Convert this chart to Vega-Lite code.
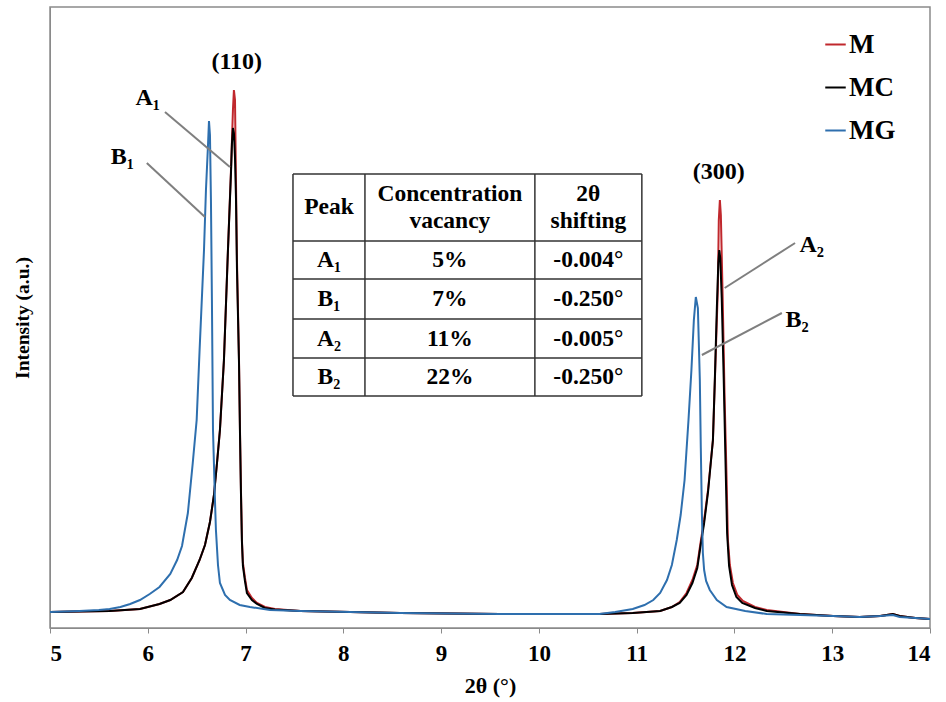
{
  "$schema": "https://vega.github.io/schema/vega-lite/v6.json",
  "width": 880,
  "height": 621,
  "autosize": {"type": "none"},
  "padding": {"left": 50, "top": 7, "right": 16, "bottom": 74},
  "background": "white",
  "config": {
    "view": {"stroke": "#8a8a8a", "strokeWidth": 1.5},
    "font": "Liberation Serif"
  },
  "datasets": {
    "curves": [
      {"series":"M","theta":5.00,"intensity":16},{"series":"M","theta":5.30,"intensity":16.5},{"series":"M","theta":5.61,"intensity":17},{"series":"M","theta":5.92,"intensity":19},{"series":"M","theta":6.12,"intensity":24},{"series":"M","theta":6.23,"intensity":28},{"series":"M","theta":6.36,"intensity":36},{"series":"M","theta":6.45,"intensity":50},{"series":"M","theta":6.53,"intensity":68},{"series":"M","theta":6.585,"intensity":83},{"series":"M","theta":6.636,"intensity":106},{"series":"M","theta":6.677,"intensity":133},{"series":"M","theta":6.708,"intensity":165},{"series":"M","theta":6.738,"intensity":198},{"series":"M","theta":6.779,"intensity":268},{"series":"M","theta":6.82,"intensity":378},{"series":"M","theta":6.851,"intensity":458},{"series":"M","theta":6.871,"intensity":518},{"series":"M","theta":6.881,"intensity":538},{"series":"M","theta":6.892,"intensity":528},{"series":"M","theta":6.902,"intensity":448},{"series":"M","theta":6.912,"intensity":368},{"series":"M","theta":6.933,"intensity":268},{"series":"M","theta":6.943,"intensity":198},{"series":"M","theta":6.953,"intensity":138},{"series":"M","theta":6.963,"intensity":88},{"series":"M","theta":6.973,"intensity":65},{"series":"M","theta":6.994,"intensity":50},{"series":"M","theta":7.014,"intensity":38},{"series":"M","theta":7.065,"intensity":30},{"series":"M","theta":7.117,"intensity":25},{"series":"M","theta":7.198,"intensity":21},{"series":"M","theta":7.30,"intensity":19},{"series":"M","theta":7.56,"intensity":17},{"series":"M","theta":8.07,"intensity":16},{"series":"M","theta":8.58,"intensity":15},{"series":"M","theta":9.09,"intensity":14.5},{"series":"M","theta":9.60,"intensity":14},{"series":"M","theta":10.11,"intensity":14},{"series":"M","theta":10.62,"intensity":14},{"series":"M","theta":10.96,"intensity":15},{"series":"M","theta":11.24,"intensity":17},{"series":"M","theta":11.36,"intensity":21},{"series":"M","theta":11.44,"intensity":26},{"series":"M","theta":11.51,"intensity":35},{"series":"M","theta":11.57,"intensity":48},{"series":"M","theta":11.62,"intensity":63},{"series":"M","theta":11.65,"intensity":83},{"series":"M","theta":11.69,"intensity":108},{"series":"M","theta":11.73,"intensity":138},{"series":"M","theta":11.78,"intensity":188},{"series":"M","theta":11.81,"intensity":278},{"series":"M","theta":11.83,"intensity":338},{"series":"M","theta":11.84,"intensity":408},{"series":"M","theta":11.851,"intensity":428},{"series":"M","theta":11.861,"intensity":413},{"series":"M","theta":11.88,"intensity":328},{"series":"M","theta":11.90,"intensity":228},{"series":"M","theta":11.92,"intensity":148},{"series":"M","theta":11.933,"intensity":88},{"series":"M","theta":11.953,"intensity":63},{"series":"M","theta":11.984,"intensity":45},{"series":"M","theta":12.03,"intensity":33},{"series":"M","theta":12.086,"intensity":27},{"series":"M","theta":12.21,"intensity":21},{"series":"M","theta":12.33,"intensity":18},{"series":"M","theta":12.67,"intensity":14},{"series":"M","theta":13.01,"intensity":12},{"series":"M","theta":13.28,"intensity":11},{"series":"M","theta":13.49,"intensity":12},{"series":"M","theta":13.62,"intensity":14},{"series":"M","theta":13.69,"intensity":12},{"series":"M","theta":13.85,"intensity":10},{"series":"M","theta":14.0,"intensity":9},
      {"series":"MC","theta":5.00,"intensity":16},{"series":"MC","theta":5.30,"intensity":16.5},{"series":"MC","theta":5.61,"intensity":17},{"series":"MC","theta":5.92,"intensity":19},{"series":"MC","theta":6.12,"intensity":24},{"series":"MC","theta":6.23,"intensity":28},{"series":"MC","theta":6.36,"intensity":36},{"series":"MC","theta":6.45,"intensity":50},{"series":"MC","theta":6.53,"intensity":68},{"series":"MC","theta":6.585,"intensity":83},{"series":"MC","theta":6.636,"intensity":106},{"series":"MC","theta":6.677,"intensity":133},{"series":"MC","theta":6.708,"intensity":165},{"series":"MC","theta":6.738,"intensity":198},{"series":"MC","theta":6.779,"intensity":268},{"series":"MC","theta":6.82,"intensity":378},{"series":"MC","theta":6.851,"intensity":455},{"series":"MC","theta":6.861,"intensity":485},{"series":"MC","theta":6.871,"intensity":500},{"series":"MC","theta":6.881,"intensity":495},{"series":"MC","theta":6.892,"intensity":470},{"series":"MC","theta":6.902,"intensity":430},{"series":"MC","theta":6.912,"intensity":360},{"series":"MC","theta":6.933,"intensity":265},{"series":"MC","theta":6.943,"intensity":195},{"series":"MC","theta":6.953,"intensity":135},{"series":"MC","theta":6.963,"intensity":86},{"series":"MC","theta":6.973,"intensity":62},{"series":"MC","theta":6.994,"intensity":47},{"series":"MC","theta":7.014,"intensity":35},{"series":"MC","theta":7.065,"intensity":28},{"series":"MC","theta":7.117,"intensity":24},{"series":"MC","theta":7.198,"intensity":20},{"series":"MC","theta":7.30,"intensity":18.5},{"series":"MC","theta":7.56,"intensity":17},{"series":"MC","theta":8.07,"intensity":16},{"series":"MC","theta":8.58,"intensity":15},{"series":"MC","theta":9.09,"intensity":14.5},{"series":"MC","theta":9.60,"intensity":14},{"series":"MC","theta":10.11,"intensity":14},{"series":"MC","theta":10.62,"intensity":14},{"series":"MC","theta":10.96,"intensity":15},{"series":"MC","theta":11.24,"intensity":17},{"series":"MC","theta":11.36,"intensity":21},{"series":"MC","theta":11.44,"intensity":25},{"series":"MC","theta":11.51,"intensity":33},{"series":"MC","theta":11.57,"intensity":45},{"series":"MC","theta":11.62,"intensity":60},{"series":"MC","theta":11.65,"intensity":80},{"series":"MC","theta":11.69,"intensity":105},{"series":"MC","theta":11.73,"intensity":136},{"series":"MC","theta":11.78,"intensity":188},{"series":"MC","theta":11.80,"intensity":250},{"series":"MC","theta":11.82,"intensity":320},{"series":"MC","theta":11.835,"intensity":365},{"series":"MC","theta":11.845,"intensity":378},{"series":"MC","theta":11.855,"intensity":370},{"series":"MC","theta":11.87,"intensity":330},{"series":"MC","theta":11.89,"intensity":250},{"series":"MC","theta":11.91,"intensity":160},{"series":"MC","theta":11.925,"intensity":95},{"series":"MC","theta":11.945,"intensity":62},{"series":"MC","theta":11.975,"intensity":43},{"series":"MC","theta":12.02,"intensity":31},{"series":"MC","theta":12.08,"intensity":25},{"series":"MC","theta":12.21,"intensity":20},{"series":"MC","theta":12.33,"intensity":17},{"series":"MC","theta":12.67,"intensity":14},{"series":"MC","theta":13.01,"intensity":12},{"series":"MC","theta":13.28,"intensity":11},{"series":"MC","theta":13.49,"intensity":12},{"series":"MC","theta":13.62,"intensity":14},{"series":"MC","theta":13.69,"intensity":12},{"series":"MC","theta":13.85,"intensity":10},{"series":"MC","theta":14.0,"intensity":9},
      {"series":"MG","theta":5.00,"intensity":16},{"series":"MG","theta":5.30,"intensity":17},{"series":"MG","theta":5.50,"intensity":18},{"series":"MG","theta":5.61,"intensity":19},{"series":"MG","theta":5.72,"intensity":21},{"series":"MG","theta":5.82,"intensity":24},{"series":"MG","theta":5.92,"intensity":28},{"series":"MG","theta":6.02,"intensity":34},{"series":"MG","theta":6.12,"intensity":41},{"series":"MG","theta":6.23,"intensity":54},{"series":"MG","theta":6.30,"intensity":68},{"series":"MG","theta":6.35,"intensity":82},{"series":"MG","theta":6.41,"intensity":115},{"series":"MG","theta":6.46,"intensity":165},{"series":"MG","theta":6.50,"intensity":208},{"series":"MG","theta":6.53,"intensity":278},{"series":"MG","theta":6.575,"intensity":378},{"series":"MG","theta":6.595,"intensity":438},{"series":"MG","theta":6.616,"intensity":483},{"series":"MG","theta":6.626,"intensity":507},{"series":"MG","theta":6.636,"intensity":493},{"series":"MG","theta":6.646,"intensity":428},{"series":"MG","theta":6.656,"intensity":328},{"series":"MG","theta":6.667,"intensity":198},{"series":"MG","theta":6.687,"intensity":128},{"series":"MG","theta":6.697,"intensity":98},{"series":"MG","theta":6.718,"intensity":63},{"series":"MG","theta":6.738,"intensity":45},{"series":"MG","theta":6.79,"intensity":33},{"series":"MG","theta":6.84,"intensity":28},{"series":"MG","theta":6.94,"intensity":23},{"series":"MG","theta":7.045,"intensity":21},{"series":"MG","theta":7.25,"intensity":18},{"series":"MG","theta":7.56,"intensity":17},{"series":"MG","theta":8.07,"intensity":16},{"series":"MG","theta":8.58,"intensity":15},{"series":"MG","theta":9.09,"intensity":14.5},{"series":"MG","theta":9.60,"intensity":14},{"series":"MG","theta":10.11,"intensity":14},{"series":"MG","theta":10.62,"intensity":14},{"series":"MG","theta":10.78,"intensity":16},{"series":"MG","theta":10.96,"intensity":19},{"series":"MG","theta":11.08,"intensity":23},{"series":"MG","theta":11.17,"intensity":28},{"series":"MG","theta":11.24,"intensity":35},{"series":"MG","theta":11.31,"intensity":48},{"series":"MG","theta":11.36,"intensity":63},{"series":"MG","theta":11.41,"intensity":88},{"series":"MG","theta":11.45,"intensity":113},{"series":"MG","theta":11.49,"intensity":148},{"series":"MG","theta":11.53,"intensity":208},{"series":"MG","theta":11.56,"intensity":258},{"series":"MG","theta":11.585,"intensity":308},{"series":"MG","theta":11.605,"intensity":331},{"series":"MG","theta":11.626,"intensity":320},{"series":"MG","theta":11.646,"intensity":248},{"series":"MG","theta":11.656,"intensity":180},{"series":"MG","theta":11.667,"intensity":115},{"series":"MG","theta":11.677,"intensity":75},{"series":"MG","theta":11.69,"intensity":58},{"series":"MG","theta":11.71,"intensity":47},{"series":"MG","theta":11.748,"intensity":38},{"series":"MG","theta":11.82,"intensity":28},{"series":"MG","theta":11.92,"intensity":21},{"series":"MG","theta":12.11,"intensity":17},{"series":"MG","theta":12.33,"intensity":14},{"series":"MG","theta":12.67,"intensity":13},{"series":"MG","theta":13.01,"intensity":12},{"series":"MG","theta":13.28,"intensity":11},{"series":"MG","theta":13.49,"intensity":12},{"series":"MG","theta":13.62,"intensity":13},{"series":"MG","theta":13.69,"intensity":11},{"series":"MG","theta":13.85,"intensity":10},{"series":"MG","theta":14.0,"intensity":9}
    ],
    "leaders": [
      {"x":6.176,"y":516,"x2":6.84,"y2":461},
      {"x":5.99,"y":465,"x2":6.585,"y2":411},
      {"x":12.62,"y":385,"x2":11.90,"y2":340},
      {"x":12.485,"y":315,"x2":11.667,"y2":273}
    ],
    "labels": [
      {"label":"(110)","x":6.91,"y":566},
      {"label":"(300)","x":11.84,"y":456},
      {"label":"A₁","x":6.0,"y":530},
      {"label":"B₁","x":5.74,"y":471},
      {"label":"A₂","x":12.79,"y":383},
      {"label":"B₂","x":12.64,"y":308}
    ],
    "grid": [
      {"x":7.485,"x2":7.485,"y":232,"y2":454},
      {"x":8.221,"x2":8.221,"y":232,"y2":454},
      {"x":9.959,"x2":9.959,"y":232,"y2":454},
      {"x":11.053,"x2":11.053,"y":232,"y2":454},
      {"x":7.485,"x2":11.053,"y":454,"y2":454},
      {"x":7.485,"x2":11.053,"y":387,"y2":387},
      {"x":7.485,"x2":11.053,"y":349,"y2":349},
      {"x":7.485,"x2":11.053,"y":309,"y2":309},
      {"x":7.485,"x2":11.053,"y":270,"y2":270},
      {"x":7.485,"x2":11.053,"y":232,"y2":232}
    ],
    "cells": [
      {"text":"Peak","x":7.853,"y":421},
      {"text":"Concentration","x":9.09,"y":434},
      {"text":"vacancy","x":9.09,"y":407},
      {"text":"2θ","x":10.506,"y":434},
      {"text":"shifting","x":10.506,"y":407},
      {"text":"A₁","x":7.853,"y":368},
      {"text":"5%","x":9.09,"y":368},
      {"text":"-0.004°","x":10.506,"y":368},
      {"text":"B₁","x":7.853,"y":329},
      {"text":"7%","x":9.09,"y":329},
      {"text":"-0.250°","x":10.506,"y":329},
      {"text":"A₂","x":7.853,"y":289.5},
      {"text":"11%","x":9.09,"y":289.5},
      {"text":"-0.005°","x":10.506,"y":289.5},
      {"text":"B₂","x":7.853,"y":251},
      {"text":"22%","x":9.09,"y":251},
      {"text":"-0.250°","x":10.506,"y":251}
    ]
  },
  "layer": [
    {
      "data": {"name": "curves"},
      "mark": {"type": "line", "strokeWidth": 2, "clip": true},
      "encoding": {
        "x": {
          "field": "theta", "type": "quantitative",
          "scale": {"domain": [5, 14], "nice": false, "zero": false},
          "axis": {
            "title": "2θ (°)", "values": [5,6,7,8,9,10,11,12,13,14], "format": "d", "grid": false,
            "labelFont": "Liberation Serif", "labelFontWeight": "bold", "labelFontSize": 23, "labelColor": "black",
            "tickColor": "#8a8a8a", "tickSize": 5, "domainColor": "#8a8a8a", "labelPadding": 9,
            "titleFont": "Liberation Serif", "titleFontWeight": "bold", "titleFontSize": 22, "titleColor": "black", "titlePadding": 10
          }
        },
        "y": {
          "field": "intensity", "type": "quantitative",
          "scale": {"domain": [0, 621], "nice": false},
          "axis": {
            "title": "Intensity (a.u.)", "labels": false, "ticks": false, "grid": false, "domainColor": "#8a8a8a",
            "titleFont": "Liberation Serif", "titleFontWeight": "bold", "titleFontSize": 19.5, "titleColor": "black", "titlePadding": 18
          }
        },
        "color": {
          "field": "series", "type": "nominal",
          "scale": {"domain": ["M", "MC", "MG"], "range": ["#c0282d", "#000000", "#2e6fae"]},
          "legend": {
            "title": null, "orient": "none", "legendX": 772, "legendY": 24,
            "symbolType": "M-1,0H1", "symbolStrokeWidth": 2, "symbolSize": 420,
            "labelFont": "Liberation Serif", "labelFontWeight": "bold", "labelFontSize": 27, "labelColor": "black",
            "rowPadding": 15, "labelOffset": 0
          }
        },
        "order": {"field": "theta", "type": "quantitative"}
      }
    },
    {
      "data": {"name": "leaders"},
      "mark": {"type": "rule", "color": "#7f7f7f", "strokeWidth": 2},
      "encoding": {
        "x": {"field": "x", "type": "quantitative"},
        "y": {"field": "y", "type": "quantitative"},
        "x2": {"field": "x2"},
        "y2": {"field": "y2"}
      }
    },
    {
      "data": {"name": "grid"},
      "mark": {"type": "rule", "color": "#333333", "strokeWidth": 1.5},
      "encoding": {
        "x": {"field": "x", "type": "quantitative"},
        "y": {"field": "y", "type": "quantitative"},
        "x2": {"field": "x2"},
        "y2": {"field": "y2"}
      }
    },
    {
      "data": {"name": "cells"},
      "mark": {"type": "text", "font": "Liberation Serif", "fontWeight": "bold", "fontSize": 23.5, "align": "center", "baseline": "middle", "color": "black"},
      "encoding": {
        "x": {"field": "x", "type": "quantitative"},
        "y": {"field": "y", "type": "quantitative"},
        "text": {"field": "text"}
      }
    },
    {
      "data": {"name": "labels"},
      "mark": {"type": "text", "font": "Liberation Serif", "fontWeight": "bold", "fontSize": 24, "align": "center", "baseline": "middle", "color": "black"},
      "encoding": {
        "x": {"field": "x", "type": "quantitative"},
        "y": {"field": "y", "type": "quantitative"},
        "text": {"field": "label"}
      }
    }
  ]
}
